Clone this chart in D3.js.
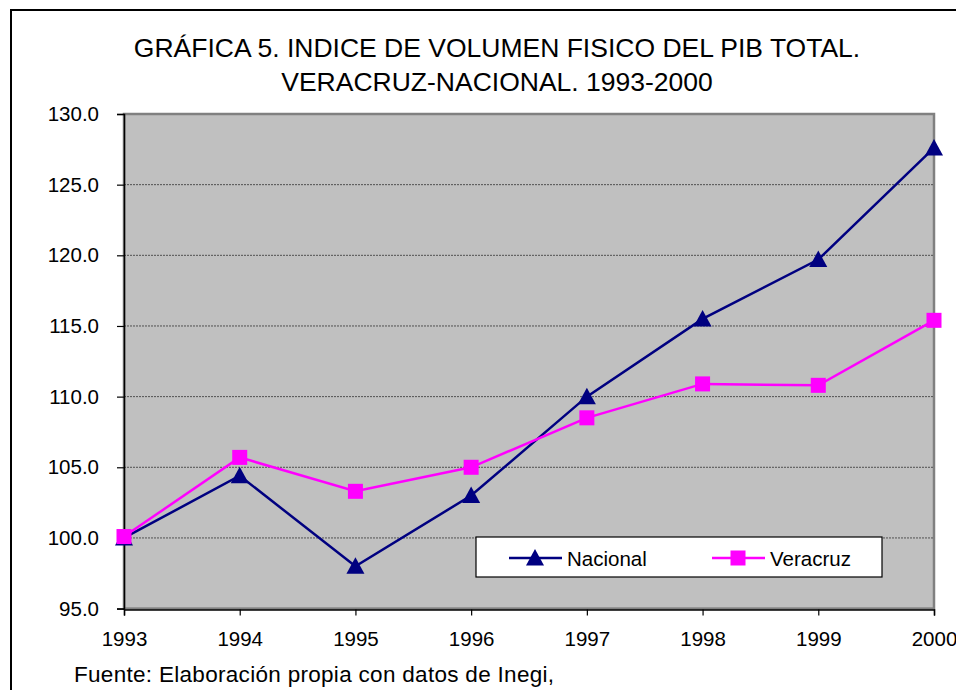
<!DOCTYPE html>
<html><head><meta charset="utf-8">
<script src="https://cdn.jsdelivr.net/npm/d3@7"></script>
<style>body{margin:0;background:#fff}svg{display:block;font-family:Arial,"Liberation Sans",sans-serif}</style>
</head><body>
<svg id="c" width="956" height="690"></svg>
<script>
const years = [1993,1994,1995,1996,1997,1998,1999,2000];
const nacional = [100.0,104.4,98.0,103.0,110.0,115.5,119.7,127.6];
const veracruz = [100.1,105.7,103.3,105.0,108.5,110.9,110.8,115.4];
const yTicks = [95,100,105,110,115,120,125,130];
const titleLines = ["GRÁFICA 5. INDICE DE VOLUMEN FISICO DEL PIB TOTAL.","VERACRUZ-NACIONAL. 1993-2000"];
const source = "Fuente: Elaboración propia con datos de Inegi,";
const seriesNames = ["Nacional","Veracruz"];

const svg = d3.select("#c");
// outer frame
svg.append("rect").attr("x",11).attr("y",10).attr("width",960).attr("height",700)
  .attr("fill","#fff").attr("stroke","#000").attr("stroke-width",2);

const L=124,R=934,T=114,B=608.6;
const x = d3.scaleLinear().domain([1993,2000]).range([L,R]);
const y = d3.scaleLinear().domain([95,130]).range([B,T]);

// plot area
svg.append("rect").attr("x",L).attr("y",T).attr("width",R-L).attr("height",B-T)
  .attr("fill","#C0C0C0").attr("stroke","#808080").attr("stroke-width",2.5);

// gridlines
svg.append("g").selectAll("line").data(yTicks.filter(d=>d>95&&d<130)).join("line")
  .attr("x1",L).attr("x2",R-1).attr("y1",d=>y(d)).attr("y2",d=>y(d))
  .attr("stroke","#505050").attr("stroke-width",1).attr("stroke-dasharray","2,1");

// axes
const yAxis = svg.append("g").attr("transform",`translate(${L},0)`)
  .call(d3.axisLeft(y).tickValues(yTicks).tickFormat(d3.format(".1f")).tickSizeOuter(0).tickSize(7).tickPadding(18));
const xAxis = svg.append("g").attr("transform",`translate(0,${B+1})`)
  .call(d3.axisBottom(x).tickValues(years).tickFormat(d3.format("d")).tickSizeOuter(0).tickSize(6).tickPadding(16));
[yAxis,xAxis].forEach(a=>{
  a.select(".domain").attr("stroke","#000").attr("stroke-width",1.5);
  a.selectAll(".tick line").attr("stroke","#000").attr("stroke-width",1.2);
  a.selectAll("text").attr("font-size",20.5).attr("fill","#000").attr("font-family","Arial, 'Liberation Sans', sans-serif");
});

const colors = ["#000080","#FF00FF"];
const data = [nacional, veracruz];
const line = d3.line().x((d,i)=>x(years[i])).y(d=>y(d));
data.forEach((s,k)=>{
  svg.append("path").datum(s).attr("d",line).attr("fill","none")
    .attr("stroke",colors[k]).attr("stroke-width",2.5);
});
function drawTri(g,cx,cy){
  g.append("path").attr("d","M0,-9L9,7.5L-9,7.5Z").attr("transform",`translate(${cx},${cy})`).attr("fill","#000080");
}
function drawSq(g,cx,cy){
  g.append("rect").attr("x",cx-7.5).attr("y",cy-7.5).attr("width",15).attr("height",15).attr("fill","#FF00FF");
}
const mg = svg.append("g");
nacional.forEach((v,i)=>drawTri(mg,x(years[i]),y(v)));
veracruz.forEach((v,i)=>drawSq(mg,x(years[i]),y(v)));

// legend
const lg = svg.append("g");
lg.append("rect").attr("x",476).attr("y",537).attr("width",406).attr("height",40)
  .attr("fill","#fff").attr("stroke","#000").attr("stroke-width",1.2);
const legItems = [{x0:509,tx:567},{x0:712,tx:770}];
legItems.forEach((it,k)=>{
  lg.append("line").attr("x1",it.x0).attr("x2",it.x0+53).attr("y1",558).attr("y2",558)
    .attr("stroke",colors[k]).attr("stroke-width",2.5);
  if(k===0) drawTri(lg,it.x0+26,558); else drawSq(lg,it.x0+26,558);
  lg.append("text").attr("x",it.tx).attr("y",565.5).attr("font-size",20.5).text(seriesNames[k]);
});

// title
svg.append("g").selectAll("text").data(titleLines).join("text")
  .attr("x",497).attr("y",(d,i)=>57+i*34).attr("text-anchor","middle")
  .attr("font-size",26.5).attr("fill","#000").text(d=>d);

svg.append("text").attr("x",74).attr("y",682).attr("font-size",22.5).attr("letter-spacing",0.3)
  .attr("fill","#000").text(source);
</script>
</body></html>
